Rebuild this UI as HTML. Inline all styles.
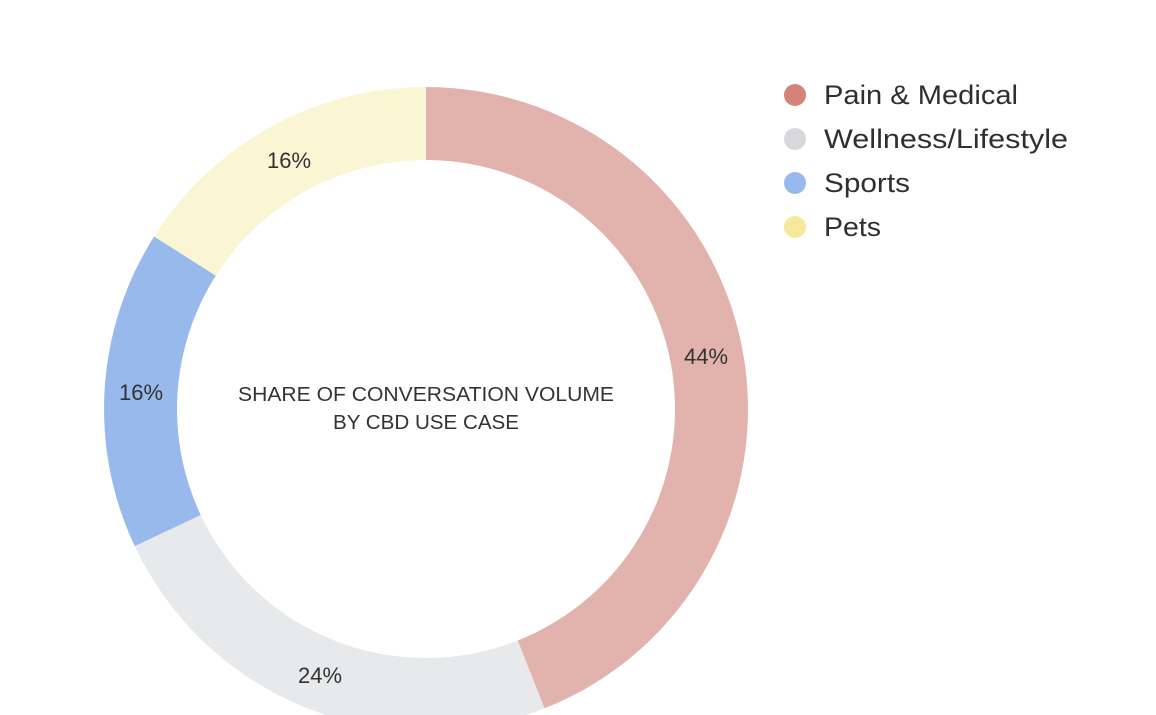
<!DOCTYPE html>
<html><head><meta charset="utf-8"><style>html,body{margin:0;padding:0;background:#fff;}svg{display:block}</style></head>
<body>
<svg width="1156" height="715" viewBox="0 0 1156 715" xmlns="http://www.w3.org/2000/svg">
<path d="M426,87 A322,322 0 0 1 544.5,708.4 L517.7,640.5 A249,249 0 0 0 426,160 Z" fill="#e2b3ad"/>
<path d="M544.5,708.4 A322,322 0 0 1 134.7,546.1 L200.7,515.0 A249,249 0 0 0 517.7,640.5 Z" fill="#e8e9ea"/>
<path d="M134.7,546.1 A322,322 0 0 1 154.1,236.5 L215.8,275.6 A249,249 0 0 0 200.7,515.0 Z" fill="#98b9ec"/>
<path d="M154.1,236.5 A322,322 0 0 1 426,87 L426,160 A249,249 0 0 0 215.8,275.6 Z" fill="#faf5d3"/>
<g font-family="Liberation Sans, sans-serif" font-size="22" fill="#333" text-anchor="middle">
<text x="706" y="364">44%</text>
<text x="320" y="683">24%</text>
<text x="141" y="400">16%</text>
<text x="289" y="168">16%</text>
</g>
<g font-family="Liberation Sans, sans-serif" font-size="20" fill="#333" text-anchor="middle">
<text x="426" y="401" textLength="376" lengthAdjust="spacingAndGlyphs">SHARE OF CONVERSATION VOLUME</text>
<text x="426" y="429" textLength="186" lengthAdjust="spacingAndGlyphs">BY CBD USE CASE</text>
</g>
<circle cx="795" cy="95" r="11" fill="#d5827a"/>
<circle cx="795" cy="139" r="11" fill="#d8d8dc"/>
<circle cx="795" cy="183" r="11" fill="#98b9ec"/>
<circle cx="795" cy="227" r="11" fill="#f5ea9c"/>
<g font-family="Liberation Sans, sans-serif" font-size="27" fill="#2e2e33">
<text x="824" y="104" textLength="194" lengthAdjust="spacingAndGlyphs">Pain &amp; Medical</text>
<text x="824" y="148" textLength="244" lengthAdjust="spacingAndGlyphs">Wellness/Lifestyle</text>
<text x="824" y="192" textLength="86" lengthAdjust="spacingAndGlyphs">Sports</text>
<text x="824" y="236" textLength="57" lengthAdjust="spacingAndGlyphs">Pets</text>
</g>
</svg>
</body></html>
